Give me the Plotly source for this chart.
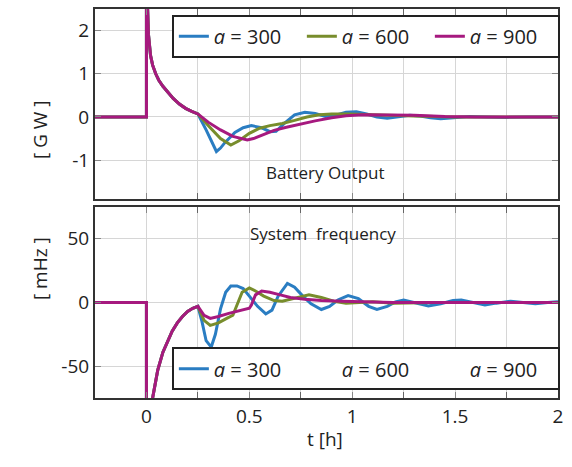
import plotly.graph_objects as go

# ---------------- data ----------------
series_names = ["<i>a</i> = 300", "<i>a</i> = 600", "<i>a</i> = 900"]
colors = ["#2a7dc2", "#788d2c", "#a6197f"]

# Battery output [GW] - common initial response
t_bat_common = [-0.25, 0.0, 0.0, 0.005, 0.01, 0.02, 0.03, 0.045, 0.06, 0.08, 0.10, 0.13, 0.16, 0.19, 0.22, 0.25]
bat_common = [0.0, 0.0, 3.3, 2.6, 1.9, 1.42, 1.2, 1.0, 0.85, 0.71, 0.59, 0.43, 0.30, 0.20, 0.13, 0.07]

t_bat_300 = [0.29, 0.34, 0.36, 0.38, 0.43, 0.47, 0.51, 0.56, 0.60, 0.63, 0.67, 0.72, 0.77, 0.82, 0.87, 0.92,
             0.97, 1.02, 1.07, 1.12, 1.17, 1.22, 1.28, 1.33, 1.38, 1.43, 1.50, 1.57, 1.65, 1.75, 1.85, 2.0]
bat_300 = [-0.30, -0.80, -0.72, -0.60, -0.36, -0.25, -0.20, -0.25, -0.34, -0.33, -0.15, 0.05, 0.11, 0.08, 0.01, 0.04,
           0.11, 0.12, 0.07, 0.0, -0.03, 0.0, 0.04, 0.02, -0.02, -0.04, -0.02, 0.01, 0.0, -0.01, 0.0, 0.0]

t_bat_600 = [0.30, 0.36, 0.41, 0.45, 0.50, 0.55, 0.60, 0.66, 0.72, 0.78, 0.84, 0.90, 0.98, 1.05, 1.15, 1.30, 1.50, 2.0]
bat_600 = [-0.20, -0.50, -0.65, -0.55, -0.38, -0.26, -0.20, -0.15, -0.08, 0.0, 0.05, 0.07, 0.07, 0.06, 0.03, 0.02, 0.0, 0.0]

t_bat_900 = [0.30, 0.36, 0.42, 0.49, 0.52, 0.57, 0.62, 0.68, 0.75, 0.82, 0.90, 0.97, 1.05, 1.15, 1.30, 1.45, 1.60, 2.0]
bat_900 = [-0.12, -0.30, -0.45, -0.53, -0.50, -0.40, -0.31, -0.24, -0.16, -0.09, -0.02, 0.03, 0.05, 0.05, 0.04, 0.01, 0.0, 0.0]

# System frequency [mHz] - common initial response
t_frq_common = [-0.25, 0.0, 0.0, 0.015, 0.03, 0.055, 0.08, 0.10, 0.125, 0.15, 0.175, 0.20, 0.225, 0.25]
frq_common = [0.0, 0.0, -140.0, -100.0, -75.0, -53.0, -39.0, -31.0, -22.5, -16.0, -11.0, -7.0, -4.5, -3.0]

t_frq_300 = [0.27, 0.29, 0.315, 0.335, 0.36, 0.385, 0.41, 0.44, 0.47, 0.50, 0.54, 0.58, 0.61, 0.64, 0.685,
             0.72, 0.76, 0.80, 0.85, 0.89, 0.93, 0.98, 1.03, 1.08, 1.12, 1.17, 1.21, 1.25, 1.30, 1.37, 1.43,
             1.49, 1.53, 1.58, 1.645, 1.70, 1.77, 1.83, 1.89, 1.95, 2.0]
frq_300 = [-15, -30, -35, -25, -5, 8, 13, 13, 11, 5, -3, -9, -6, 5, 15,
           12, 5, -1, -5.5, -3, 2, 5.5, 3, -3, -5.5, -3, 0.5, 2, 0, -2.8, -1,
           1.5, 2, 0, -2, -0.5, 1, 0, -1, 0, 0.5]

t_frq_600 = [0.28, 0.31, 0.35, 0.39, 0.42, 0.44, 0.465, 0.50, 0.53, 0.57, 0.62, 0.66, 0.72, 0.79, 0.85,
             0.91, 0.97, 1.03, 1.10, 1.20, 1.30, 1.40, 2.0]
frq_600 = [-14, -18, -16, -12.5, -10, -2, 8, 11.5, 9, 5, 1.5, 1, 3.5, 6, 4,
           1, -0.5, 0, 0.5, -0.5, 0, 0, 0]

t_frq_900 = [0.28, 0.31, 0.35, 0.40, 0.45, 0.50, 0.51, 0.53, 0.56, 0.60, 0.65, 0.70, 0.77, 0.85, 0.95, 1.05, 1.20, 2.0]
frq_900 = [-10, -12.5, -11, -8.5, -6.5, -4.5, -2, 6, 9, 8, 6, 4, 2.5, 1.5, 1, 0.5, 0, 0]

bat_t = [t_bat_300, t_bat_600, t_bat_900]
bat_v = [bat_300, bat_600, bat_900]
frq_t = [t_frq_300, t_frq_600, t_frq_900]
frq_v = [frq_300, frq_600, frq_900]

x_ticks = [0, 0.5, 1, 1.5, 2]
x_ticklabels = ["0", "0.5", "1", "1.5", "2"]

# ---------------- figure ----------------
FONT = "Open Sans, Roboto, sans-serif"
TXT = "#222222"
GRID = "#d6d6d6"
fig = go.Figure()

for i in range(3):
    fig.add_trace(go.Scatter(
        x=t_bat_common + bat_t[i], y=bat_common + bat_v[i],
        mode="lines", name=series_names[i], line=dict(color=colors[i], width=3),
        xaxis="x", yaxis="y", legend="legend", showlegend=True))
for i in range(3):
    fig.add_trace(go.Scatter(
        x=t_frq_common + frq_t[i], y=frq_common + frq_v[i],
        mode="lines", name=series_names[i], line=dict(color=colors[i], width=3),
        xaxis="x2", yaxis="y2", showlegend=False))

# legend of lower panel (only the first entry shows a line sample)
leg2_colors = [colors[0], "rgba(0,0,0,0)", "rgba(0,0,0,0)"]
for i in range(3):
    fig.add_trace(go.Scatter(
        x=[None], y=[None], mode="lines", name=series_names[i],
        line=dict(color=leg2_colors[i], width=3),
        xaxis="x2", yaxis="y2", legend="legend2", showlegend=True))

axis_common = dict(
    showline=True, linecolor="#333333", linewidth=2, mirror="ticks",
    showgrid=True, gridcolor=GRID, gridwidth=1, zeroline=False,
    ticks="inside", ticklen=6, tickcolor="#888888",
    tickfont=dict(family=FONT, size=19, color=TXT),
)

xa = dict(axis_common, range=[-0.25, 2], tickvals=x_ticks, ticktext=x_ticklabels,
          minor=dict(dtick=0.25, tick0=0, ticks="inside", ticklen=6, tickcolor="#666666",
                     showgrid=True, gridcolor=GRID))

fig.update_layout(
    width=572, height=467,
    margin=dict(l=95, r=14, t=7, b=69),
    paper_bgcolor="white", plot_bgcolor="white",
    font=dict(family=FONT, color=TXT),
    xaxis=dict(xa, domain=[0, 1], anchor="y", showticklabels=False, matches="x2"),
    yaxis=dict(axis_common, domain=[0.5115, 1], anchor="x", range=[-1.9, 2.5],
               tickvals=[-1, 0, 1, 2], ticktext=["-1", "0", "1", "2"]),
    xaxis2=dict(xa, domain=[0, 1], anchor="y2", showticklabels=True),
    yaxis2=dict(axis_common, domain=[0, 0.491], anchor="x2", range=[-75, 75],
                tickvals=[-50, 0, 50], ticktext=["-50", "0", "50"]),
    legend=dict(orientation="h", x=0.166, y=0.985, xanchor="left", yanchor="top",
                bgcolor="white", bordercolor="#222222", borderwidth=2,
                font=dict(family=FONT, size=20, color=TXT), entrywidth=83, itemwidth=30),
    legend2=dict(orientation="h", x=0.166, y=0.02, xanchor="left", yanchor="bottom",
                 bgcolor="white", bordercolor="#222222", borderwidth=2,
                 font=dict(family=FONT, size=20, color=TXT), entrywidth=83, itemwidth=30),
    showlegend=True,
)

fig.add_annotation(text="Battery Output", x=0.87, y=-1.28, xref="x", yref="y",
                   showarrow=False, font=dict(family=FONT, size=17, color=TXT))
fig.add_annotation(text="System  frequency", x=0.86, y=54, xref="x2", yref="y2",
                   showarrow=False, font=dict(family=FONT, size=17, color=TXT))
fig.add_annotation(text="[ G W ]", x=-0.151, y=0.77, xref="paper", yref="paper",
                   textangle=-90, showarrow=False, font=dict(family=FONT, size=19, color=TXT))
fig.add_annotation(text="[ mHz ]", x=-0.151, y=0.2455, xref="paper", yref="paper",
                   textangle=-90, showarrow=False, font=dict(family=FONT, size=19, color=TXT))
fig.add_annotation(text="t [h]", x=0.497, y=-0.143, xref="paper", yref="paper",
                   showarrow=False, font=dict(family=FONT, size=19, color=TXT))

fig.write_html("out.html", config={"displayModeBar": False},
               post_script="document.body.style.margin='0';")
